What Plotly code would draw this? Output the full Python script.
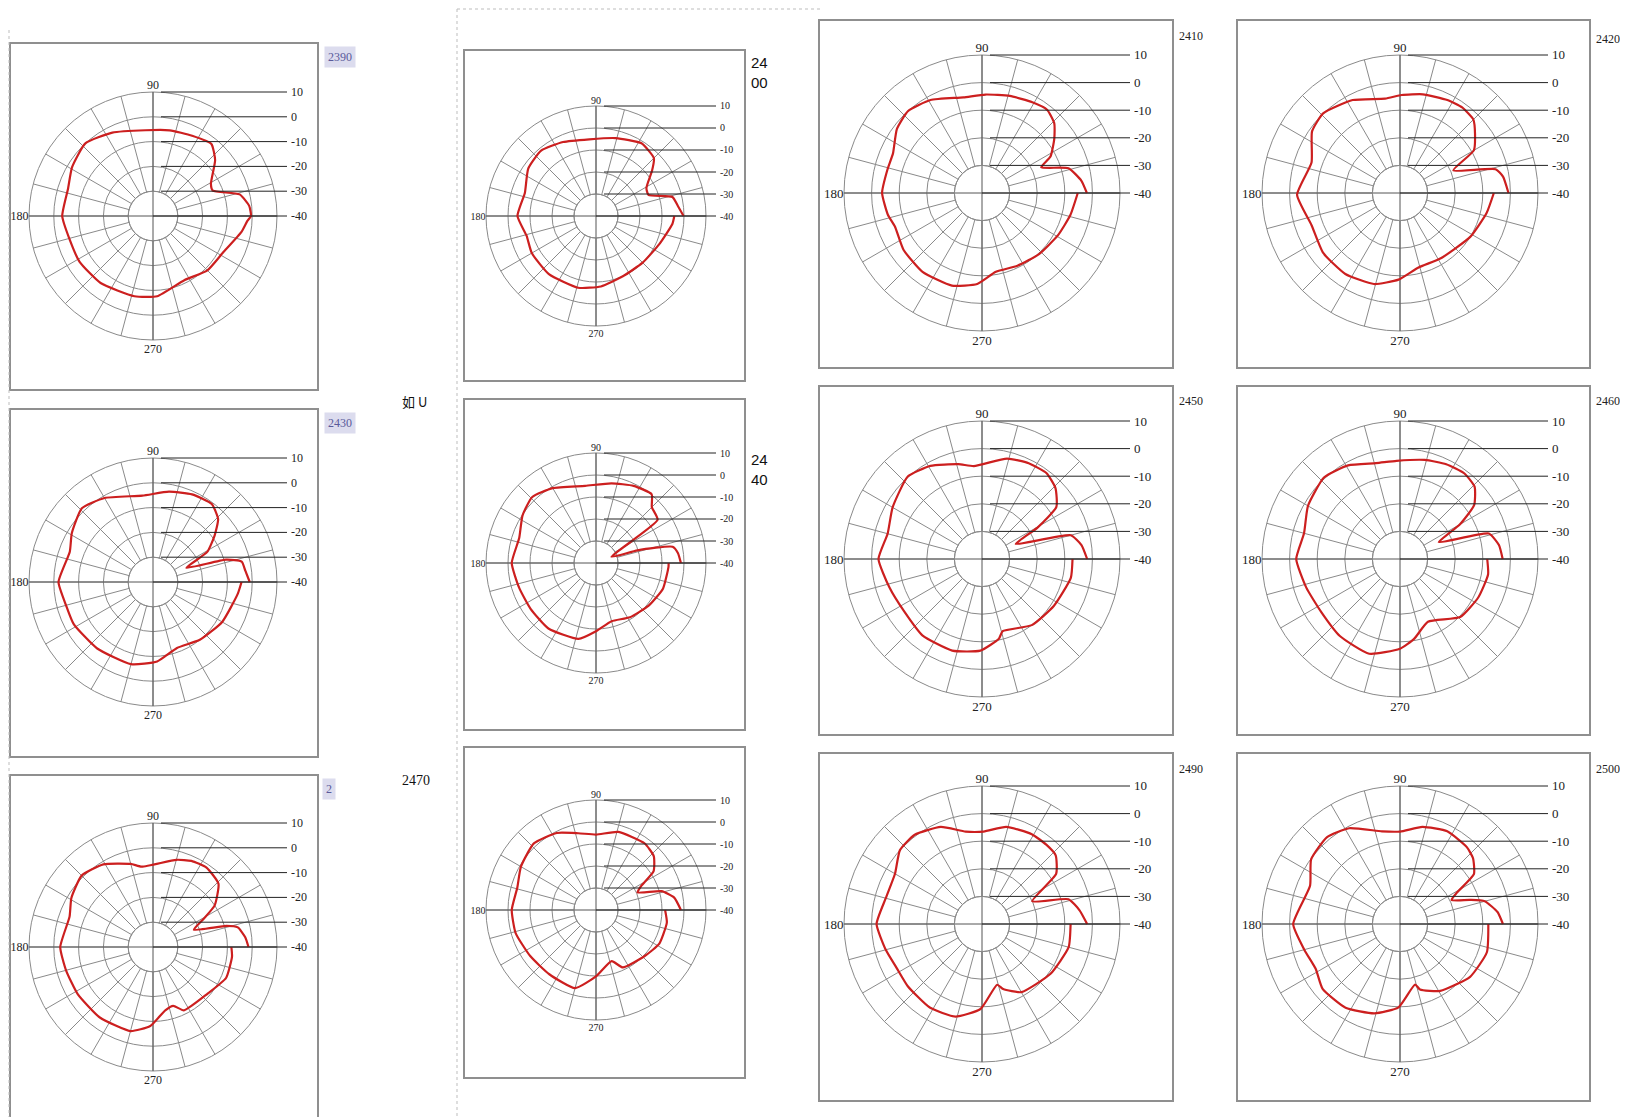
import plotly.graph_objects as go

W, H = 1628, 1117
OFF = 8  # the page body margin shifts the figure by this much

# measured patterns: angle (deg) and level (dB), one pair of lists per panel
theta_2390 = [0, 6, 14, 23, 29, 42, 51, 64, 79, 95, 116, 133, 149, 162, 180, 196, 212, 232, 257, 273, 296, 315, 332, 350, 357, 360]
db_2390 = [-0.5, -1, -4, -13.8, -13.3, -6.3, -2.6, -4, -4.8, -5.3, -2.6, 0, -1.9, -4, -3.4, -5.1, -5.1, -5.7, -6.8, -7.6, -11.2, -9, -8.2, -3.7, -1.9, -0.5]

theta_2430 = [0, 7, 13, 17, 23, 29, 37, 44, 53, 66, 80, 97, 120, 134, 149, 160, 180, 195, 208, 230, 255, 273, 290, 309, 330, 352, 360]
db_2430 = [-1, -2.5, -3.3, -9.2, -25.4, -15, -8.9, -3.5, -0.6, -1.3, -3, -4.9, -0.9, 1.3, -1.8, -4.3, -1.9, -3.7, -3.8, -5, -5.7, -7.9, -11.7, -10, -7.8, -5.5, -4.3]

theta_2470 = [0, 6, 13, 16, 23, 29, 34, 44, 56, 66, 75, 98, 105, 121, 135, 149, 160, 180, 195, 212, 233, 255, 268, 281, 289, 296, 319, 337, 353, 360]
db_2470 = [-1.5, -2.6, -4.9, -9.2, -22.1, -16.7, -10, -3.3, -1.4, -2, -3.6, -7.3, -5.3, -1.1, 0.7, -1.6, -4.2, -2.6, -3.7, -4.2, -4.4, -4.9, -8.1, -14, -14.9, -11.6, -11.1, -8, -7.9, -8.4]

theta_2400 = [0, 7, 14, 22, 29, 39, 45, 58, 76, 95, 114, 130, 145, 162, 180, 196, 210, 231, 256, 274, 294, 315, 336, 354, 360]
db_2400 = [-0.2, -2.5, -4.2, -14.3, -13.8, -7.2, -2.8, -1, -3.5, -5, -3.2, -1.2, -2.4, -6, -4.3, -7.2, -6.3, -6, -6.4, -7.9, -10, -10, -8.5, -5.1, -4.4]

theta_2440 = [0, 7, 12, 17, 22, 35, 45, 51, 64, 79, 98, 120, 134, 147, 162, 180, 198, 215, 234, 257, 270, 285, 302, 321, 339, 357, 360]
db_2440 = [-1.4, -2.5, -4.4, -20.3, -32.4, -5.8, -4.1, 0.2, -1, -3.1, -4.6, -0.7, 1.7, -0.2, -3.3, -1.7, -3.3, -3.7, -3.2, -4.6, -9, -12.6, -10.9, -9.2, -7.4, -7, -7]

theta_c2r3 = [0, 9, 16, 23, 28, 34, 43, 54, 74, 90, 103, 117, 133, 150, 164, 180, 196, 215, 234, 255, 270, 287, 295, 317, 332, 350, 360]
db_c2r3 = [-1.4, -4, -9, -19.5, -16.7, -8.4, -4.1, -2.5, -3.1, -5.7, -4.2, -0.7, 1.4, -0.6, -2.8, -1.7, -2, -3.5, -3.9, -3.2, -9.8, -15.7, -11.2, -9.5, -7.4, -7.3, -8.6]

theta_2410 = [0, 7, 16, 23.5, 28, 37, 44, 52, 61, 74, 88, 101, 119, 132, 143, 156, 166, 180, 193, 201, 216, 233, 252, 267, 280, 296, 313, 331, 346, 360]
db_2410 = [-2, -3.7, -7.4, -16.6, -11.9, -7.2, -3.6, -1.7, -2.4, -3.4, -4.3, -4.7, -1.5, 0, -1.4, -4.7, -4.7, -3.8, -5, -6.2, -4.9, -4.2, -4.7, -7, -11, -10.7, -9.7, -8.5, -7, -5.3]

theta_2420 = [0, 9, 14, 23, 30, 38, 45, 54, 63, 77, 89, 99, 117, 134, 145, 161, 181, 200, 218, 236, 254, 269, 284, 302, 328, 347, 360]
db_2420 = [-0.7, -2.2, -4.3, -19, -9.1, -5.5, -2.4, -1.7, -2.2, -3.3, -4.5, -5.4, -2.2, 0.1, -1.1, -6.1, -2.7, -5.9, -4.7, -4.6, -5.7, -8.6, -12.2, -12.1, -10, -7.8, -6]

theta_2450 = [0, 8, 15, 24, 29.5, 35, 44, 53, 64, 76, 95, 104, 119, 132, 150, 165, 180, 197, 214, 232, 252, 269, 282, 286, 307, 327, 348, 360]
db_2450 = [-1.9, -3.6, -6.7, -26.6, -16.9, -7.1, -3, -1.1, -1.4, -2.5, -6.2, -4.6, -1.4, 0.2, -2.6, -4.6, -2.5, -4.9, -6, -4.9, -5.1, -6.8, -10.5, -12.8, -10, -8.9, -7.1, -7.2]

theta_2460 = [0, 8, 16, 23.5, 30, 36, 44, 53, 64, 76, 92, 104, 119, 133, 150, 165, 180, 197, 214, 232, 252, 270, 280, 294, 316, 334, 350, 360]
db_2460 = [-2.8, -3.8, -6.5, -24.7, -15, -6.8, -2.4, -1.2, -1.8, -3, -4.4, -4.2, -1.2, 0.4, -1.5, -4, -2.4, -4.5, -5.6, -4.6, -3.9, -7.5, -10.6, -15.1, -9.7, -8.4, -7.6, -8.4]

theta_2490 = [0, 8, 16, 24.4, 34, 43, 51, 61, 76, 89, 100, 113, 127, 138, 150, 165, 180, 195, 207, 220, 238, 254, 269, 284, 288, 300, 324, 345, 360]
db_2490 = [-1.9, -4.3, -7.4, -20, -7.6, -3.5, -3, -2.8, -3.7, -6.5, -6, -1.8, 0.5, 0, -3.6, -3.9, -1.8, -3.9, -5.2, -4.9, -4.3, -5.1, -9.2, -17.3, -15.2, -11.5, -9.3, -7.5, -7.9]

theta_2500 = [0, 7, 15, 19, 25, 29, 34, 42, 49, 63, 77, 90, 101, 118, 130, 144, 157, 180, 195, 208, 220, 237, 254, 269, 284, 287, 301, 323, 342, 360]
db_2500 = [-2.7, -4.4, -8.2, -13.2, -19.4, -16.3, -7.7, -4.4, -3.1, -2.3, -3.9, -6.5, -5.8, -0.7, 1.1, -0.2, -4.6, -1.3, -4.1, -5.4, -3.4, -3.8, -6.3, -9.8, -17.4, -15.2, -11.7, -8.2, -6.9, -8]

ring_ticks = [10, 0, -10, -20, -30, -40]
spoke_step = 15

# panel geometry (px): centre, polar radius, frame box, tick font size
panels = [
    (theta_2390, db_2390, 153, 216, 124, (10, 43, 318, 390), 12),
    (theta_2430, db_2430, 153, 582, 124, (10, 409, 318, 757), 12),
    (theta_2470, db_2470, 153, 947, 124, (10, 775, 318, 1130), 12),
    (theta_2400, db_2400, 596, 216, 110, (464, 50, 745, 381), 10),
    (theta_2440, db_2440, 596, 563, 110, (464, 399, 745, 730), 10),
    (theta_c2r3, db_c2r3, 596, 910, 110, (464, 747, 745, 1078), 10),
    (theta_2410, db_2410, 982, 193, 138, (819, 20, 1173, 368), 13),
    (theta_2450, db_2450, 982, 559, 138, (819, 386, 1173, 735), 13),
    (theta_2490, db_2490, 982, 924, 138, (819, 753, 1173, 1101), 13),
    (theta_2420, db_2420, 1400, 193, 138, (1237, 20, 1590, 368), 13),
    (theta_2460, db_2460, 1400, 559, 138, (1237, 386, 1590, 735), 13),
    (theta_2500, db_2500, 1400, 924, 138, (1237, 753, 1590, 1101), 13),
]

GRID = '#8a8a8a'
CROSS = '#555555'
INK = '#222222'
RED = '#cc1f1f'


def px(x):
    return (x - OFF) / W


def py(y):
    return 1 - (y - OFF) / H


fig = go.Figure()
layout = {}
shapes = []
annotations = []

for i, (th, db, cx, cy, R, box, fs) in enumerate(panels):
    a_id = 2 * i + 1
    b_id = 2 * i + 2
    dom = dict(x=[px(cx - R), px(cx + R)], y=[py(cy + R), py(cy - R)])
    tfont = dict(family='Liberation Serif', size=fs, color=INK)

    # outer rings and spokes (kept out of the inner -30 circle)
    layout[f'polar{a_id}'] = dict(
        domain=dom, hole=0.2, bgcolor='white',
        radialaxis=dict(range=[-30, 10], tickvals=[-20, -10, 0], showticklabels=False,
                        ticks='', showline=False, gridcolor=GRID, gridwidth=1),
        angularaxis=dict(tickvals=list(range(0, 360, spoke_step)), showticklabels=False,
                         ticks='', gridcolor=GRID, gridwidth=1, showline=True,
                         linecolor=GRID, linewidth=1),
    )
    # inner circle, cross and the pattern itself
    layout[f'polar{b_id}'] = dict(
        domain=dom, bgcolor='rgba(0,0,0,0)',
        radialaxis=dict(range=[-40, 10], tickvals=[-30], showticklabels=False,
                        ticks='', showline=False, gridcolor=GRID, gridwidth=1),
        angularaxis=dict(tickvals=[0, 90, 180, 270], ticktext=['', '90', '180', '270'],
                         ticks='', showline=False, gridcolor=CROSS, gridwidth=1,
                         tickfont=tfont),
    )
    fig.add_trace(go.Scatterpolar(r=[], theta=[], subplot=f'polar{a_id}',
                                  showlegend=False))
    fig.add_trace(go.Scatterpolar(r=db, theta=th, subplot=f'polar{b_id}', mode='lines',
                                  line=dict(color=RED, width=2.2, shape='spline', smoothing=0.5),
                                  showlegend=False, hoverinfo='skip'))

    # level leader lines with labels on the right
    for v in ring_ticks:
        y = cy - R * (v + 40) / 50
        x0 = cx if v == -40 else cx + 8
        shapes.append(dict(type='line', xref='paper', yref='paper',
                           x0=px(x0), x1=px(cx + R + 10), y0=py(y), y1=py(y),
                           line=dict(color=INK, width=1)))
        annotations.append(dict(x=px(cx + R + 12), y=py(y), xref='paper', yref='paper',
                                text=str(v), showarrow=False, xanchor='left',
                                yanchor='middle', font=tfont))

    x0, y0, x1, y1 = box
    shapes.append(dict(type='rect', xref='paper', yref='paper',
                       x0=px(x0), x1=px(x1), y0=py(y1), y1=py(y0),
                       line=dict(color='#8f8f8f', width=2)))

# frequency captions beside the panels
small_tags = [('2390', 324, 57), ('2430', 324, 423), ('2', 322, 789)]
for txt, x, y in small_tags:
    annotations.append(dict(x=px(x), y=py(y), xref='paper', yref='paper', text=txt,
                            showarrow=False, xanchor='left', yanchor='middle',
                            bgcolor='#dcdcee', borderpad=3,
                            font=dict(family='Liberation Sans Narrow', size=12, color='#5a5a9a')))

sans_tags = [('24<br>00', 749, 73), ('24<br>40', 749, 470)]
for txt, x, y in sans_tags:
    annotations.append(dict(x=px(x), y=py(y), xref='paper', yref='paper', text=txt,
                            showarrow=False, xanchor='left', yanchor='middle', align='left',
                            font=dict(family='Liberation Sans', size=15, color='#111111')))

annotations.append(dict(x=px(400), y=py(402), xref='paper', yref='paper', text='如 U',
                        showarrow=False, xanchor='left', yanchor='middle',
                        font=dict(family='Noto Sans CJK SC', size=13, color='#111111')))
annotations.append(dict(x=px(400), y=py(780), xref='paper', yref='paper', text='2470',
                        showarrow=False, xanchor='left', yanchor='middle',
                        font=dict(family='Liberation Sans Narrow', size=14, color='#111111')))

serif_tags = [('2410', 1177, 36), ('2420', 1594, 39), ('2450', 1177, 401),
              ('2460', 1594, 401), ('2490', 1177, 769), ('2500', 1594, 769)]
for txt, x, y in serif_tags:
    annotations.append(dict(x=px(x), y=py(y), xref='paper', yref='paper', text=txt,
                            showarrow=False, xanchor='left', yanchor='middle',
                            font=dict(family='Liberation Serif', size=12, color='#222222')))

# dotted page separators
for x0, y0, x1, y1 in [(9, 30, 9, H + OFF), (457, 9, 457, H + OFF), (457, 9, 820, 9)]:
    shapes.append(dict(type='line', xref='paper', yref='paper',
                       x0=px(x0), x1=px(x1), y0=py(y0), y1=py(y1),
                       line=dict(color='#bdbdbd', width=1, dash='dot')))

fig.update_layout(
    width=W, height=H,
    margin=dict(l=0, r=0, t=0, b=0),
    paper_bgcolor='white',
    showlegend=False,
    shapes=shapes,
    annotations=annotations,
    **layout,
)

fig.write_html("out.html")
